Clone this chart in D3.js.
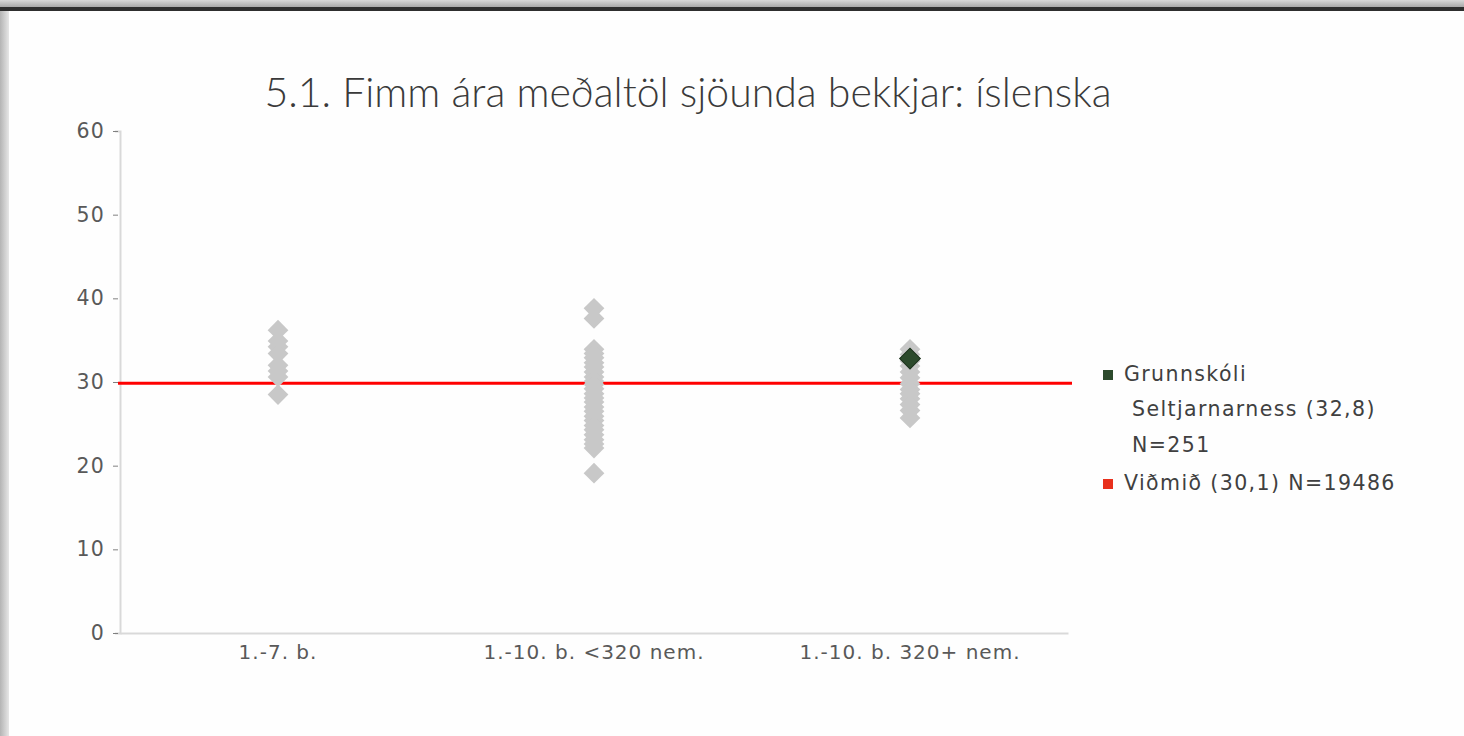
<!DOCTYPE html>
<html>
<head>
<meta charset="utf-8">
<script src="https://cdn.jsdelivr.net/npm/d3@7"></script>
<style>
  body { margin: 0; background: #fefefe; }
  svg { display: block; }
</style>
</head>
<body>
<svg id="chart"></svg>
<script>
const categories = ['1.-7. b.', '1.-10. b. <320 nem.', '1.-10. b. 320+ nem.'];
const small = [36.2, 34.9, 34.2, 33.4, 32.0, 31.3, 30.6, 28.5];
const midSize = [38.8, 37.6, 33.9, 33.4, 32.9, 32.3, 31.8, 31.2, 30.6, 30.1, 29.7, 29.2, 28.6,
  28.1, 27.6, 27.0, 26.5, 25.9, 25.4, 24.8, 24.3, 23.7, 23.1, 22.6, 22.1, 19.1];
const large = [33.9, 33.3, 32.5, 31.9, 31.2, 30.5, 29.8, 29.1, 28.6, 28.0, 27.3, 26.6, 25.7];
const schoolValue = 32.8;
const schoolCategory = '1.-10. b. 320+ nem.';
const benchmark = 30.1;
const yTicks = [0, 10, 20, 30, 40, 50, 60];
const legendLabels = [['Grunnskóli', 'Seltjarnarness (32,8)', 'N=251'], ['Viðmið (30,1) N=19486']];
const title = '5.1. Fimm ára meðaltöl sjöunda bekkjar: íslenska';

const width = 1464, height = 736;
const margin = { top: 131, left: 120, right: 396, bottom: 103 };
const labelFont = 'DejaVu Sans';

const svg = d3.select('#chart')
  .attr('width', width)
  .attr('height', height);

// frame: top shadow, dark bar, left shadow
const defs = svg.append('defs');
const topGrad = defs.append('linearGradient').attr('id', 'topg').attr('x1', 0).attr('x2', 0).attr('y1', 0).attr('y2', 1);
topGrad.append('stop').attr('offset', 0).attr('stop-color', '#d8d8d8');
topGrad.append('stop').attr('offset', 1).attr('stop-color', '#a8a8a8');
const leftGrad = defs.append('linearGradient').attr('id', 'leftg');
leftGrad.append('stop').attr('offset', 0).attr('stop-color', '#b4b4b4');
leftGrad.append('stop').attr('offset', 1).attr('stop-color', '#e6e6e6');

svg.append('rect').attr('x', 0).attr('y', 0).attr('width', width).attr('height', 7).attr('fill', 'url(#topg)');
svg.append('rect').attr('x', 0).attr('y', 7).attr('width', width).attr('height', 4).attr('fill', '#2e2e2e');
svg.append('rect').attr('x', 0).attr('y', 11).attr('width', 9).attr('height', height - 11).attr('fill', 'url(#leftg)');

// title
svg.append('text')
  .attr('x', 688)
  .attr('y', 107)
  .attr('text-anchor', 'middle')
  .attr('font-family', 'Lato')
  .attr('font-weight', 300)
  .attr('font-size', 41)
  .attr('fill', '#3a3a3a')
  .text(title);

// scales
const x = d3.scaleBand()
  .domain(categories)
  .range([margin.left, width - margin.right]);

const y = d3.scaleLinear()
  .domain([0, 60])
  .range([height - margin.bottom, margin.top]);

// y axis
const yAxis = svg.append('g')
  .attr('transform', `translate(${margin.left},0)`)
  .call(d3.axisLeft(y).tickValues(yTicks).tickSize(5).tickPadding(10));
yAxis.select('.domain').attr('stroke', '#d9d9d9').attr('stroke-width', 2);
yAxis.selectAll('.tick line').attr('stroke', '#808080').attr('transform', 'translate(-2,0)');
yAxis.selectAll('.tick text')
  .attr('font-family', labelFont)
  .attr('font-size', 20.5)
  .attr('letter-spacing', 1.2)
  .attr('fill', '#595959');

// x axis
const xAxis = svg.append('g')
  .attr('transform', `translate(0,${height - margin.bottom})`)
  .call(d3.axisBottom(x).tickSize(0).tickPadding(12));
xAxis.select('.domain').attr('stroke', '#d9d9d9').attr('stroke-width', 2);
xAxis.selectAll('.tick text')
  .attr('font-family', labelFont)
  .attr('font-size', 20)
  .attr('letter-spacing', 1.0)
  .attr('fill', '#595959');

// benchmark line
svg.append('line')
  .attr('x1', margin.left - 2)
  .attr('x2', width - margin.right + 4)
  .attr('y1', y(benchmark) + 2)
  .attr('y2', y(benchmark) + 2)
  .attr('stroke', '#ff0000')
  .attr('stroke-width', 3);

// schools
const points = [];
[small, midSize, large].forEach((vals, i) => {
  vals.forEach(v => points.push({ cat: categories[i], value: v }));
});

const diamond = d3.symbol().type(d3.symbolSquare).size(215);

svg.append('g')
  .selectAll('path')
  .data(points)
  .join('path')
  .attr('d', diamond)
  .attr('transform', d => `translate(${x(d.cat) + x.bandwidth() / 2},${y(d.value)}) rotate(45)`)
  .attr('fill', '#c8c8c8');

svg.append('path')
  .attr('d', diamond)
  .attr('transform', `translate(${x(schoolCategory) + x.bandwidth() / 2},${y(schoolValue)}) rotate(45)`)
  .attr('fill', '#2c4a2c')
  .attr('stroke', '#1e331e')
  .attr('stroke-width', 1);

// legend
const legend = svg.append('g')
  .attr('font-family', labelFont)
  .attr('font-size', 20.5)
  .attr('letter-spacing', 1.4)
  .attr('fill', '#404040');

legend.append('rect').attr('x', 1103).attr('y', 370).attr('width', 10).attr('height', 10).attr('fill', '#2c4a2c');
legend.append('text').attr('x', 1124).attr('y', 381).text(legendLabels[0][0]);
legend.append('text').attr('x', 1132).attr('y', 416).text(legendLabels[0][1]);
legend.append('text').attr('x', 1132).attr('y', 452).text(legendLabels[0][2]);
legend.append('rect').attr('x', 1103).attr('y', 479).attr('width', 10).attr('height', 10).attr('fill', '#e8301c');
legend.append('text').attr('x', 1124).attr('y', 490).text(legendLabels[1][0]);
</script>
</body>
</html>
